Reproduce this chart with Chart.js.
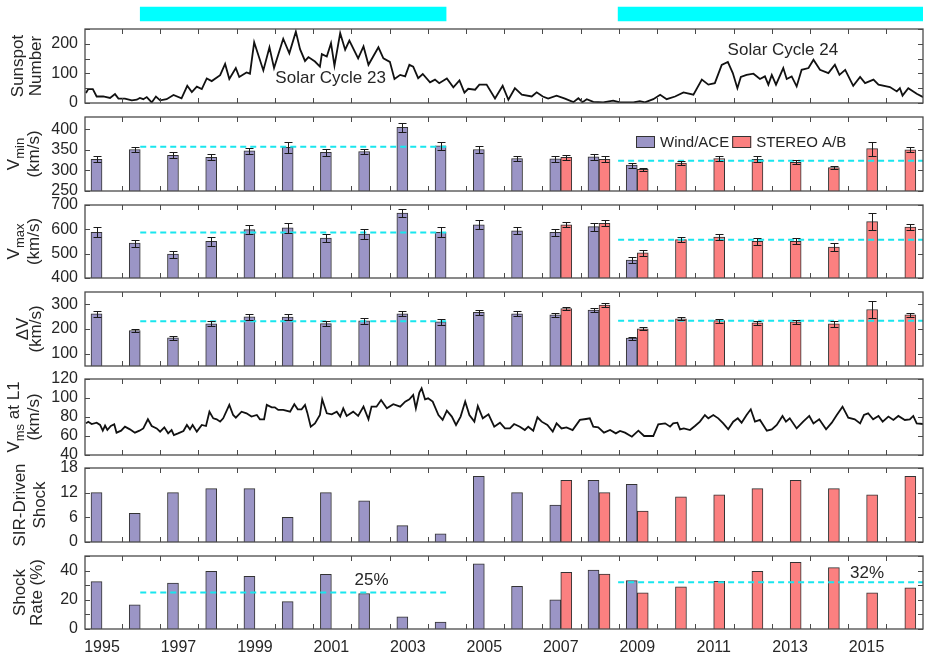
<!DOCTYPE html>
<html>
<head>
<meta charset="utf-8">
<title>SIR shocks and solar cycle</title>
<script src="https://cdn.jsdelivr.net/npm/chart.js@4.4.1/dist/chart.umd.min.js"></script>
<style>
	body { margin: 0; width: 925px; height: 654px; background: #fff; position: relative; overflow: hidden }
	canvas { position: absolute; left: 0 }
</style>
</head>
<body>
<script>
const d = document,
	FONT = '"Liberation Sans", Arial, Helvetica, sans-serif',
	INK = '#262626',
	WIND_COLOR = '#9b95c6',
	STEREO_COLOR = '#fb8080',
	MEAN_COLOR = '#19e6ee',
	X_MIN = 1994.555,
	X_MAX = 2016.475,
	PAD = 12

// years of the yearly bars, tick labels and tick marks
const years = [1995, 1996, 1997, 1998, 1999, 2000, 2001, 2002, 2003, 2004, 2005, 2006, 2007, 2008, 2009, 2010, 2011, 2012, 2013, 2014, 2015, 2016],
	yearLabels = [1995, 1997, 1999, 2001, 2003, 2005, 2007, 2009, 2011, 2013, 2015],
	tickYears = [1995.52, 1996.52, 1997.52, 1998.52, 1999.52, 2000.52, 2001.52, 2002.52, 2003.52, 2004.52, 2005.52, 2006.52, 2007.52, 2008.52, 2009.52, 2010.52, 2011.52, 2012.52, 2013.52, 2014.52, 2015.52]

// solar cycle intervals (cyan bars) and their means
const cycleStart = [1996, 2008.5],
	cycleEnd = [2004, 2016.5],
	vminMean = [357.5, 323.5],
	vmaxMean = [587, 557],
	dvMean = [231, 233],
	rateMean = [25, 32]

// sunspot number
const sunspotYear = [1994.58, 1994.64, 1994.76, 1994.86, 1995.03, 1995.21, 1995.34, 1995.43, 1995.6, 1995.78, 1995.91, 1995.99, 1996.08, 1996.17, 1996.3, 1996.41, 1996.52, 1996.69, 1996.87, 1997.08, 1997.23, 1997.35, 1997.48, 1997.61, 1997.74, 1997.87, 1998.09, 1998.22, 1998.33, 1998.5, 1998.59, 1998.78, 1998.87, 1998.98, 1999.22, 1999.38, 1999.5, 1999.74, 1999.9, 2000.07, 2000.18, 2000.31, 2000.4, 2000.57, 2000.7, 2000.75, 2000.88, 2000.99, 2001.08, 2001.23, 2001.36, 2001.47, 2001.7, 2001.84, 2001.97, 2002.23, 2002.36, 2002.53, 2002.65, 2002.8, 2002.93, 2003.04, 2003.14, 2003.27, 2003.39, 2003.58, 2003.71, 2003.82, 2004.02, 2004.19, 2004.35, 2004.48, 2004.58, 2004.76, 2004.87, 2005.06, 2005.28, 2005.48, 2005.63, 2005.8, 2005.98, 2006.24, 2006.37, 2006.53, 2006.67, 2006.89, 2007.11, 2007.33, 2007.46, 2007.57, 2007.68, 2007.85, 2008.11, 2008.37, 2008.55, 2008.9, 2009.07, 2009.2, 2009.42, 2009.6, 2009.77, 2009.99, 2010.21, 2010.47, 2010.69, 2010.86, 2011.03, 2011.21, 2011.37, 2011.5, 2011.62, 2011.71, 2011.86, 2012.04, 2012.21, 2012.34, 2012.43, 2012.52, 2012.63, 2012.82, 2012.91, 2013.04, 2013.17, 2013.3, 2013.48, 2013.61, 2013.78, 2014, 2014.17, 2014.29, 2014.44, 2014.65, 2014.83, 2014.96, 2015.18, 2015.31, 2015.61, 2015.79, 2015.87, 2015.94, 2016.09, 2016.31, 2016.48],
	sunspotNum = [34, 47, 47, 22, 22, 17, 30, 15, 15, 9, 11, 17, 13, 20, 2, 22, 9, 13, 27, 16, 58, 37, 55, 47, 83, 74, 94, 132, 81, 118, 88, 103, 99, 205, 110, 188, 118, 217, 168, 241, 182, 142, 155, 140, 123, 165, 157, 202, 126, 236, 180, 211, 151, 191, 129, 188, 151, 139, 81, 95, 90, 129, 123, 84, 98, 70, 79, 67, 83, 53, 76, 35, 48, 45, 62, 62, 15, 58, 11, 50, 28, 22, 36, 22, 15, 25, 15, 3, 16, 3, 13, 4, 2, 8, 2, 2, 6, 2, 13, 28, 13, 22, 36, 28, 79, 62, 67, 129, 139, 101, 50, 88, 95, 99, 81, 90, 62, 95, 62, 118, 81, 90, 56, 112, 118, 146, 112, 101, 129, 95, 112, 58, 88, 67, 79, 62, 54, 39, 50, 25, 50, 31, 20]

// Vmin (km/s)
const vminWind = [327, 351, 337, 332, 348, 356, 344, 346, 405, 360, 351, 329, 328, 333, 313, null, null, null, null, null, null, null],
	vminWindErr = [7, 6, 7, 7, 7, 13, 9, 7, 11, 10, 8, 6, 7, 8, 6, null, null, null, null, null, null, null],
	vminStereo = [null, null, null, null, null, null, null, null, null, null, null, null, 332, 327, 303, 318, 329, 327, 320, 307, 353, 350],
	vminStereoErr = [null, null, null, null, null, null, null, null, null, null, null, null, 6, 7, 4, 4, 6, 7, 5, 4, 17, 6]

// Vmax (km/s)
const vmaxWind = [588, 543, 498, 551, 599, 606, 564, 580, 667, 588, 619, 594, 588, 611, 474, null, null, null, null, null, null, null],
	vmaxWindErr = [21, 14, 14, 19, 18, 22, 16, 20, 18, 20, 18, 14, 14, 17, 12, null, null, null, null, null, null, null],
	vmaxStereo = [null, null, null, null, null, null, null, null, null, null, null, null, 619, 625, 503, 558, 568, 551, 551, 527, 632, 609],
	vmaxStereoErr = [null, null, null, null, null, null, null, null, null, null, null, null, 10, 13, 12, 12, 11, 14, 13, 18, 34, 12]

// Delta V (km/s)
const dvWind = [261, 194, 164, 221, 249, 248, 222, 233, 262, 229, 268, 261, 257, 277, 163, null, null, null, null, null, null, null],
	dvWindErr = [12, 7, 7, 10, 13, 13, 9, 12, 10, 12, 10, 10, 9, 9, 6, null, null, null, null, null, null, null],
	dvStereo = [null, null, null, null, null, null, null, null, null, null, null, null, 283, 297, 201, 241, 234, 225, 229, 221, 279, 257],
	dvStereoErr = [null, null, null, null, null, null, null, null, null, null, null, null, 7, 8, 6, 6, 8, 8, 7, 12, 36, 8]

// rms speed at L1 (km/s)
const vmsYear = [1994.58, 1994.64, 1994.73, 1994.86, 1994.95, 1995.02, 1995.08, 1995.14, 1995.23, 1995.32, 1995.38, 1995.5, 1995.6, 1995.73, 1995.86, 1995.98, 1996.08, 1996.2, 1996.3, 1996.43, 1996.52, 1996.63, 1996.73, 1996.82, 1996.88, 1996.99, 1997.13, 1997.22, 1997.3, 1997.37, 1997.48, 1997.61, 1997.72, 1997.81, 1997.91, 1998, 1998.09, 1998.17, 1998.33, 1998.43, 1998.5, 1998.65, 1998.78, 1998.91, 1999.05, 1999.13, 1999.24, 1999.31, 1999.44, 1999.52, 1999.61, 1999.74, 1999.92, 2000.03, 2000.12, 2000.22, 2000.31, 2000.37, 2000.46, 2000.57, 2000.7, 2000.76, 2000.88, 2001.01, 2001.14, 2001.23, 2001.31, 2001.4, 2001.57, 2001.7, 2001.84, 2001.97, 2002.05, 2002.18, 2002.3, 2002.45, 2002.62, 2002.8, 2002.93, 2003.04, 2003.14, 2003.21, 2003.3, 2003.36, 2003.45, 2003.53, 2003.65, 2003.8, 2003.91, 2004.02, 2004.15, 2004.26, 2004.38, 2004.5, 2004.61, 2004.74, 2004.83, 2004.96, 2005.11, 2005.26, 2005.41, 2005.54, 2005.67, 2005.78, 2005.93, 2006.06, 2006.15, 2006.28, 2006.39, 2006.5, 2006.65, 2006.79, 2006.89, 2007.02, 2007.15, 2007.31, 2007.5, 2007.66, 2007.76, 2007.85, 2007.98, 2008.13, 2008.29, 2008.44, 2008.55, 2008.68, 2008.86, 2009.03, 2009.18, 2009.42, 2009.55, 2009.73, 2009.86, 2009.94, 2010.05, 2010.12, 2010.22, 2010.38, 2010.51, 2010.64, 2010.77, 2010.86, 2010.99, 2011.12, 2011.25, 2011.38, 2011.51, 2011.63, 2011.73, 2011.86, 2011.97, 2012.08, 2012.21, 2012.39, 2012.52, 2012.65, 2012.8, 2012.89, 2012.99, 2013.17, 2013.34, 2013.5, 2013.61, 2013.76, 2013.94, 2014.09, 2014.22, 2014.37, 2014.52, 2014.69, 2014.83, 2014.93, 2015.04, 2015.17, 2015.31, 2015.42, 2015.57, 2015.7, 2015.83, 2016, 2016.13, 2016.22, 2016.31, 2016.48],
	vmsSpeed = [73.3, 75, 72.6, 74, 71.6, 65.6, 70.9, 66.3, 70.5, 72.3, 63.5, 65.6, 69.8, 67, 63.5, 65.6, 68, 77.6, 70.5, 68, 64.6, 69.1, 62.8, 66.3, 61, 62.8, 65.3, 71.6, 67, 71.6, 64.6, 71.6, 70.5, 85.6, 78.6, 77.6, 75.1, 78.6, 92.7, 82.1, 79.3, 85.6, 83.9, 80.4, 82.1, 77.6, 77.6, 92.7, 90.2, 90.2, 87.4, 87.4, 85.6, 93.4, 88.1, 88.1, 92.7, 84.6, 69.8, 73.3, 82.1, 98.6, 83.9, 82.8, 85.6, 80.4, 89.1, 81.1, 85.6, 81.1, 90.9, 77.6, 90.9, 90.9, 97.9, 89.1, 93.4, 90.9, 96.2, 98.6, 103.2, 89.1, 105.6, 110.2, 98.6, 99.7, 96.2, 82.1, 76.9, 86.7, 80.4, 71.6, 80.4, 96.2, 82.1, 75.1, 91.6, 78.6, 82.8, 69.8, 74, 68, 68, 72.6, 69.8, 66.3, 69.8, 65.6, 79.7, 75.1, 71.6, 64.6, 73.3, 68, 69.1, 66.3, 76.9, 77.9, 78.6, 69.8, 69.1, 63.5, 66.3, 62.8, 65.3, 63.5, 59.3, 65.6, 60, 60, 72.3, 73.3, 69.8, 73.3, 74, 67, 68, 66.3, 70.5, 75.1, 82.1, 78.6, 82.1, 78.6, 73.3, 67, 75.1, 78.6, 74, 82.1, 88.1, 75.1, 76.9, 65.6, 67, 71.6, 81.1, 75.1, 78.6, 68, 75.1, 81.1, 73.3, 77.6, 67, 74, 82.1, 90.9, 79.3, 77.6, 73.3, 82.1, 83.9, 77.6, 81.1, 75.1, 80.4, 76.9, 81.1, 76.9, 77.6, 81.1, 73.3, 72.6]

// SIR-driven shock counts and shock rate (%)
const shockWind = [12, 7, 12, 13, 13, 6, 12, 10, 4, 2, 16, 12, 9, 15, 14, null, null, null, null, null, null, null],
	shockStereo = [null, null, null, null, null, null, null, null, null, null, null, null, 15, 12, 7.5, 11, 11.5, 13, 15, 13, 11.5, 16],
	rateWind = [32.5, 16.6, 31.4, 39.5, 36, 18.8, 37.5, 24.3, 8.4, 4.8, 44.7, 29.3, 20, 40.4, 33.1, null, null, null, null, null, null, null],
	rateStereo = [null, null, null, null, null, null, null, null, null, null, null, null, 38.9, 37.7, 24.7, 28.8, 32.7, 39.5, 45.7, 42, 24.7, 28.2]

Chart.defaults.font.family = FONT
Chart.defaults.color = INK
Chart.defaults.animation = false

const byYear = (values) => years.map((x, i) => ({ x, y: values[i] }))

function addCanvas(top, height) {
	const c = d.createElement('canvas')
	c.width = 925
	c.height = height
	c.style.top = top + 'px'
	d.body.appendChild(c)
	return c
}

const framePlugin = {
	id: 'frame',
	afterDatasetsDraw(chart) {
		const { ctx, chartArea: a, scales } = chart
		ctx.save()
		ctx.strokeStyle = '#4a4a4a'
		ctx.lineWidth = 1
		ctx.beginPath()
		tickYears.forEach((v) => {
			const x = Math.round(scales.x.getPixelForValue(v)) + 0.5
			ctx.moveTo(x, a.top)
			ctx.lineTo(x, a.top + 5)
			ctx.moveTo(x, a.bottom)
			ctx.lineTo(x, a.bottom - 5)
		})
		scales.y.ticks.forEach((t) => {
			const y = Math.round(scales.y.getPixelForValue(t.value)) + 0.5
			ctx.moveTo(a.left, y)
			ctx.lineTo(a.left + 5, y)
			ctx.moveTo(a.right, y)
			ctx.lineTo(a.right - 5, y)
		})
		ctx.stroke()
		ctx.lineWidth = 1.3
		ctx.strokeRect(a.left, a.top, a.width, a.height)
		ctx.restore()
	},
}

const errorBarPlugin = {
	id: 'errorBars',
	afterDatasetsDraw(chart) {
		const { ctx, scales: { y } } = chart
		ctx.save()
		ctx.strokeStyle = '#1a1a1a'
		ctx.lineWidth = 1
		chart.data.datasets.forEach((ds, i) => {
			if (!ds.errors) return
			chart.getDatasetMeta(i).data.forEach((bar, j) => {
				const v = ds.data[j].y,
					e = ds.errors[j]
				if (v == null || e == null) return
				const x = Math.round(bar.x) + 0.5,
					top = Math.round(y.getPixelForValue(v + e)) + 0.5,
					bot = Math.round(y.getPixelForValue(v - e)) + 0.5
				ctx.beginPath()
				ctx.moveTo(x, top)
				ctx.lineTo(x, bot)
				ctx.moveTo(x - 4, top)
				ctx.lineTo(x + 4, top)
				ctx.moveTo(x - 4, bot)
				ctx.lineTo(x + 4, bot)
				ctx.stroke()
			})
		})
		ctx.restore()
	},
}

// rotated two-line axis title, parts flagged sub are drawn as subscripts
function yTitle(lines, base) {
	return {
		id: 'yTitle',
		afterDraw(chart) {
			const { ctx, chartArea: a } = chart
			ctx.save()
			ctx.translate(0, (a.top + a.bottom) / 2)
			ctx.rotate(-Math.PI / 2)
			ctx.fillStyle = INK
			ctx.textBaseline = 'alphabetic'
			lines.forEach((parts, i) => {
				const fonts = parts.map((p) => `${p.sub ? 13 : 17}px ${FONT}`)
				let w = 0
				parts.forEach((p, k) => {
					ctx.font = fonts[k]
					w += ctx.measureText(p.t).width
				})
				let x = -w / 2
				parts.forEach((p, k) => {
					ctx.font = fonts[k]
					ctx.fillText(p.t, x, base[i] + (p.sub ? 5 : 0))
					x += ctx.measureText(p.t).width
				})
			})
			ctx.restore()
		},
	}
}

function notes(items) {
	return {
		id: 'notes',
		afterDatasetsDraw(chart) {
			const { ctx, scales } = chart
			ctx.save()
			ctx.fillStyle = INK
			ctx.font = `17px ${FONT}`
			ctx.textAlign = 'center'
			ctx.textBaseline = 'middle'
			items.forEach((n) => ctx.fillText(n.text, scales.x.getPixelForValue(n.x), scales.y.getPixelForValue(n.y)))
			ctx.restore()
		},
	}
}

const legendPlugin = {
	id: 'insideLegend',
	afterDraw(chart) {
		const { ctx, chartArea: a } = chart
		let x = 636
		const y = a.top + 19
		ctx.save()
		ctx.font = `15px ${FONT}`
		ctx.textBaseline = 'middle'
		chart.data.datasets.filter((ds) => ds.type !== 'line').forEach((ds) => {
			ctx.fillStyle = ds.backgroundColor
			ctx.fillRect(x, y, 19, 12)
			ctx.strokeStyle = '#333'
			ctx.lineWidth = 1
			ctx.strokeRect(x + 0.5, y + 0.5, 18, 11)
			x += 24
			ctx.fillStyle = INK
			ctx.fillText(ds.label, x, y + 6.5)
			x += ctx.measureText(ds.label).width + 3
		})
		ctx.restore()
	},
}

function yScale(min, max, ticks, labels) {
	return {
		min,
		max,
		grid: { display: false, drawTicks: false },
		border: { display: false },
		afterBuildTicks: (s) => {
			s.ticks = ticks.map((value) => ({ value }))
		},
		afterFit: (s) => {
			s.width = 85
			s.paddingTop = 0
			s.paddingBottom = 0
		},
		ticks: {
			autoSkip: false,
			padding: 7,
			color: INK,
			font: { size: 16 },
			callback: (v) => (labels.includes(v) ? String(v) : ''),
		},
	}
}

const hiddenX = { type: 'linear', min: X_MIN, max: X_MAX, offset: false, display: false }

const labelledX = {
	type: 'linear',
	min: X_MIN,
	max: X_MAX,
	offset: false,
	position: 'bottom',
	grid: { display: false, drawTicks: false },
	border: { display: false },
	afterBuildTicks: (s) => {
		s.ticks = yearLabels.map((value) => ({ value }))
	},
	afterFit: (s) => {
		s.height = 28
		s.paddingLeft = 0
		s.paddingRight = 0
	},
	ticks: { autoSkip: false, maxRotation: 0, padding: 9, color: INK, font: { size: 16 }, callback: (v) => String(v) },
}

function meanLines(means) {
	return means.map((m, i) => ({
		type: 'line',
		data: [{ x: cycleStart[i], y: m }, { x: cycleEnd[i], y: m }],
		borderColor: MEAN_COLOR,
		borderWidth: 2,
		borderDash: [6, 4],
		pointRadius: 0,
	}))
}

function barPanel({ top, height, wind, windErr, stereo, stereoErr, means, y, title, extra = [], xAxis = hiddenX }) {
	const labelled = xAxis !== hiddenX,
		datasets = [
			{ label: 'Wind/ACE', data: byYear(wind), errors: windErr, backgroundColor: WIND_COLOR, borderColor: '#333', borderWidth: 1, barThickness: 11 },
			{ label: 'STEREO A/B', data: byYear(stereo), errors: stereoErr, backgroundColor: STEREO_COLOR, borderColor: '#333', borderWidth: 1, barThickness: 11 },
		]
	if (means) datasets.unshift(...meanLines(means))
	return new Chart(addCanvas(top - PAD, height + PAD + (labelled ? 30 : PAD)), {
		type: 'bar',
		data: { datasets },
		options: {
			responsive: false,
			layout: { autoPadding: false, padding: { top: PAD, bottom: labelled ? 2 : PAD, left: 0, right: 2 } },
			plugins: { legend: { display: false }, tooltip: { enabled: false } },
			scales: { x: xAxis, y },
		},
		plugins: [errorBarPlugin, framePlugin, yTitle(title.lines, title.base), ...extra],
	})
}

function linePanel({ top, height, xs, ys, y, title, extra = [] }) {
	return new Chart(addCanvas(top - PAD, height + 2 * PAD), {
		type: 'line',
		data: {
			datasets: [{ data: xs.map((x, i) => ({ x, y: ys[i] })), borderColor: '#111', borderWidth: 1.8, pointRadius: 0, tension: 0 }],
		},
		options: {
			responsive: false,
			layout: { autoPadding: false, padding: { top: PAD, bottom: PAD, left: 0, right: 2 } },
			plugins: { legend: { display: false }, tooltip: { enabled: false } },
			scales: { x: hiddenX, y },
		},
		plugins: [framePlugin, yTitle(title.lines, title.base), ...extra],
	})
}

// cyan solar cycle bars above the panels
new Chart(addCanvas(0, 28), {
	type: 'bar',
	data: {
		labels: ['Solar cycle'],
		datasets: [{ data: cycleStart.map((s, i) => ({ x: [s, cycleEnd[i]], y: 'Solar cycle' })), backgroundColor: '#00ffff', borderWidth: 0, barThickness: 14 }],
	},
	options: {
		responsive: false,
		indexAxis: 'y',
		layout: { autoPadding: false, padding: { top: 0, bottom: 0, left: 85, right: 2 } },
		plugins: { legend: { display: false }, tooltip: { enabled: false } },
		scales: { x: hiddenX, y: { display: false } },
	},
})

linePanel({
	top: 29,
	height: 74,
	xs: sunspotYear,
	ys: sunspotNum,
	y: yScale(0, 250, [0, 50, 100, 150, 200, 250], [0, 100, 200]),
	title: { lines: [[{ t: 'Sunspot' }], [{ t: 'Number' }]], base: [23, 41] },
	extra: [notes([{ text: 'Solar Cycle 23', x: 2000.98, y: 83 }, { text: 'Solar Cycle 24', x: 2012.81, y: 178 }])],
})

barPanel({
	top: 117,
	height: 74,
	wind: vminWind,
	windErr: vminWindErr,
	stereo: vminStereo,
	stereoErr: vminStereoErr,
	means: vminMean,
	y: yScale(250, 430, [250, 300, 350, 400], [250, 300, 350, 400]),
	title: { lines: [[{ t: 'V' }, { t: 'min', sub: true }], [{ t: '(km/s)' }]], base: [19, 39] },
	extra: [legendPlugin],
})

barPanel({
	top: 205,
	height: 73,
	wind: vmaxWind,
	windErr: vmaxWindErr,
	stereo: vmaxStereo,
	stereoErr: vmaxStereoErr,
	means: vmaxMean,
	y: yScale(400, 700, [400, 500, 600, 700], [400, 500, 600, 700]),
	title: { lines: [[{ t: 'V' }, { t: 'max', sub: true }], [{ t: '(km/s)' }]], base: [19, 39] },
})

barPanel({
	top: 292,
	height: 74,
	wind: dvWind,
	windErr: dvWindErr,
	stereo: dvStereo,
	stereoErr: dvStereoErr,
	means: dvMean,
	y: yScale(50, 350, [100, 200, 300], [100, 200, 300]),
	title: { lines: [[{ t: '\u0394V' }], [{ t: '(km/s)' }]], base: [28, 41] },
})

linePanel({
	top: 379,
	height: 76,
	xs: vmsYear,
	ys: vmsSpeed,
	y: yScale(40, 120, [40, 60, 80, 100, 120], [40, 60, 80, 100, 120]),
	title: { lines: [[{ t: 'V' }, { t: 'ms', sub: true }, { t: ' at L1' }], [{ t: '(km/s)' }]], base: [19, 39] },
})

barPanel({
	top: 468,
	height: 74,
	wind: shockWind,
	stereo: shockStereo,
	y: yScale(0, 18, [0, 6, 12, 18], [0, 6, 12, 18]),
	title: { lines: [[{ t: 'SIR-Driven' }], [{ t: 'Shock' }]], base: [25, 45] },
})

barPanel({
	top: 556,
	height: 73,
	wind: rateWind,
	stereo: rateStereo,
	means: rateMean,
	y: yScale(0, 50, [0, 10, 20, 30, 40, 50], [0, 20, 40]),
	title: { lines: [[{ t: 'Shock' }], [{ t: 'Rate (%)' }]], base: [25, 42] },
	xAxis: labelledX,
	extra: [notes([{ text: '25%', x: 2002.05, y: 33.6 }, { text: '32%', x: 2015.01, y: 38 }])],
})
</script>
</body>
</html>
